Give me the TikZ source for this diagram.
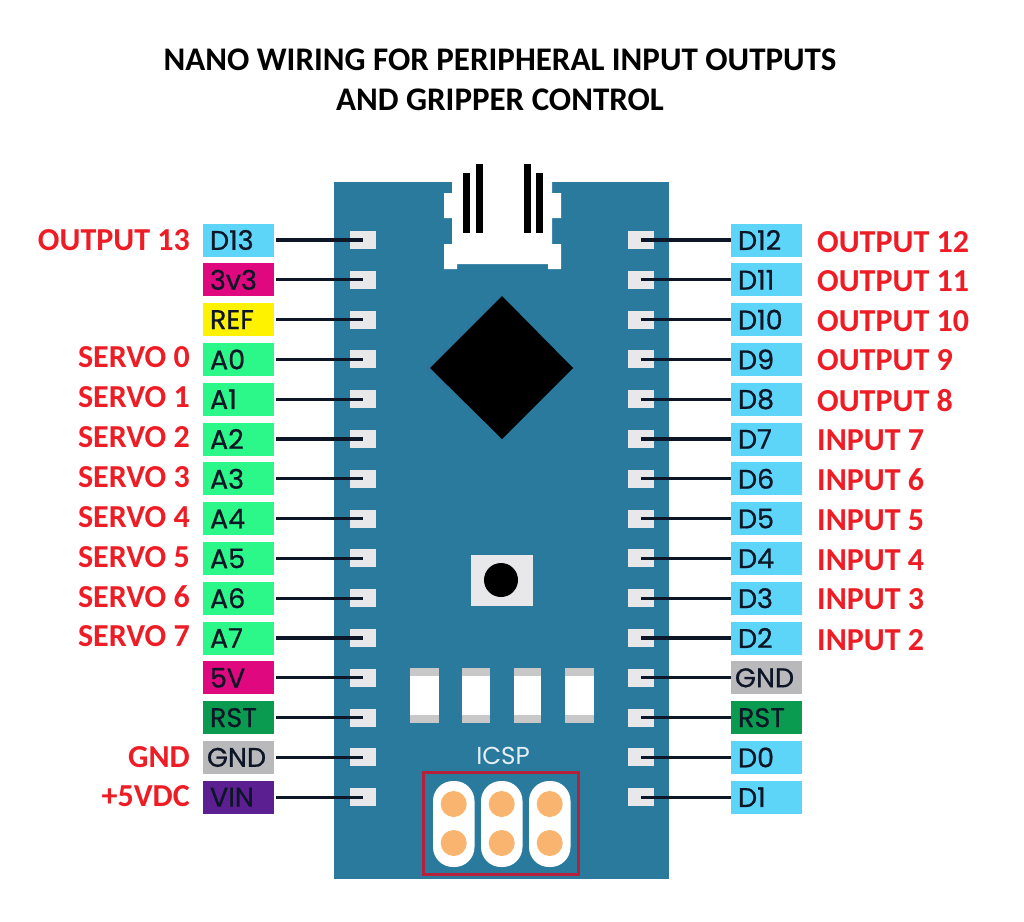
\documentclass[tikz,border=0pt]{standalone}
\usepackage{fontspec}
\setmainfont{Carlito}
\newfontfamily\pinfont[FakeBold=0.7]{Poppins}
\newfontfamily\icspfont{Poppins}
\definecolor{cboard}{HTML}{2A7A9E}
\definecolor{cpad}{HTML}{E8E8EA}
\definecolor{cblue}{HTML}{5CD5F9}
\definecolor{cmag}{HTML}{E0087F}
\definecolor{cyel}{HTML}{FFF200}
\definecolor{cgreen}{HTML}{2CF88A}
\definecolor{cgrey}{HTML}{B9B9BB}
\definecolor{cdgreen}{HTML}{0A9A50}
\definecolor{cpurple}{HTML}{5B1F91}
\definecolor{cink}{HTML}{0D1626}
\definecolor{cred}{HTML}{EE1C25}
\definecolor{cframe}{HTML}{B5203A}
\definecolor{corange}{HTML}{F9B46F}
\definecolor{ccap}{HTML}{C8C8C8}
\tikzset{
  pinbox/.style={fill=#1,text=cink,minimum width=71pt,minimum height=33pt,inner xsep=7pt,inner ysep=0pt,text width=57pt,align=left,font=\pinfont\fontsize{27}{30}\selectfont},
  padbox/.style={fill=cpad,minimum width=26pt,minimum height=18pt,inner sep=0pt},
  wire/.style={draw=cink,line width=3.2pt},
  redtext/.style={text=cred,inner sep=0pt,font=\bfseries\fontsize{32}{36}\selectfont},
  titletext/.style={text=black,inner sep=0pt,align=center,font=\bfseries\fontsize{33}{40}\selectfont},
  smd/.style={fill=white},
  capband/.style={fill=ccap},
  pill/.style={fill=white,rounded corners=20pt},
  hole/.style={fill=corange}
}
\begin{document}
\begin{tikzpicture}[x=1pt,y=1pt]
\useasboundingbox (0,0) rectangle (1024,-921);
\fill[white] (0,0) rectangle (1024,-921);
\node[titletext] (title) at (500,-80) {NANO WIRING FOR PERIPHERAL INPUT OUTPUTS\\AND GRIPPER CONTROL};
% board
\fill[cboard] (334,-182) rectangle (669,-879);
\fill[white] (452,-182) -- (552,-182) -- (552,-193) -- (561,-193) -- (561,-218) -- (552,-218) -- (552,-244) -- (561,-244) -- (561,-269) -- (548,-269) -- (548,-264) -- (457,-264) -- (457,-269) -- (444,-269) -- (444,-244) -- (452,-244) -- (452,-218) -- (444,-218) -- (444,-193) -- (452,-193) -- cycle;
\fill[black] (463,-173) rectangle (470,-233);
\fill[black] (476,-164) rectangle (483,-233);
\fill[black] (524,-164) rectangle (531,-233);
\fill[black] (536,-173) rectangle (543,-233);
\fill[black] (502,-296) -- (573,-368) -- (502,-439) -- (430,-368) -- cycle;
\fill[cpad] (471,-555) rectangle (533,-606);
\fill[black] (501,-580) circle (17);
\foreach \xa/\xb in {410/439,462/490,514/541,565/594}{
  \fill[smd] (\xa,-668) rectangle (\xb,-723);
  \fill[capband] (\xa,-668) rectangle (\xb,-676);
  \fill[capband] (\xa,-715) rectangle (\xb,-723);
}
\node[text=white!88!cboard,inner sep=0pt,font=\icspfont\fontsize{24.5}{26}\selectfont] (icsp) at (503,-756) {ICSP};
\draw[cframe,line width=3pt] (423,-772) rectangle (578,-874);
\foreach \xa in {433,481,529}{
  \fill[pill] (\xa,-781) rectangle ++(41.5,-86);
  \fill[hole] (\xa+20.7,-804) circle (13);
  \fill[hole] (\xa+20.7,-843) circle (13);
}
% left pins
\foreach \i/\t/\c in {0/D13/cblue,1/3v3/cmag,2/REF/cyel,3/A0/cgreen,4/A1/cgreen,5/A2/cgreen,6/A3/cgreen,7/A4/cgreen,8/A5/cgreen,9/A6/cgreen,10/A7/cgreen,11/5V/cmag,12/RST/cdgreen,13/\hspace*{-3pt}GND/cgrey,14/VIN/cpurple}{
  \pgfmathsetmacro{\yy}{-240-39.8*\i}
  \node[padbox] (PL\i) at (363,\yy) {};
  \node[pinbox=\c] (L\i) at (238.5,\yy) {\t};
  \draw[wire] (L\i.east) ++(2,0) -- (PL\i.center);
}
% right pins
\foreach \i/\t/\c in {0/D12/cblue,1/D11/cblue,2/D10/cblue,3/D9/cblue,4/D8/cblue,5/D7/cblue,6/D6/cblue,7/D5/cblue,8/D4/cblue,9/D3/cblue,10/D2/cblue,11/\hspace*{-3pt}GND/cgrey,12/RST/cdgreen,13/D0/cblue,14/D1/cblue}{
  \pgfmathsetmacro{\yy}{-240-39.8*\i}
  \node[padbox] (PR\i) at (640.5,\yy) {};
  \node[pinbox=\c] (R\i) at (766.5,\yy) {\t};
  \draw[wire] (PR\i.center) -- (R\i.west);
}
% red captions
\foreach \n/\y/\t in {a/240/OUTPUT 13,b/357/SERVO 0,c/397/SERVO 1,d/437/SERVO 2,e/477/SERVO 3,f/517/SERVO 4,g/557/SERVO 5,h/597/SERVO 6,i/636/SERVO 7,j/757/GND,k/796/+5VDC}{
  \node[redtext,anchor=base east] (cap\n) at (190,-\y-10) {\t};
}
\foreach \n/\y/\t in {a/242/OUTPUT 12,b/281/OUTPUT 11,c/321/OUTPUT 10,d/360/OUTPUT 9,e/401/OUTPUT 8,f/440/INPUT 7,g/480/INPUT 6,h/520/INPUT 5,i/560/INPUT 4,j/599/INPUT 3,k/640/INPUT 2}{
  \node[redtext,anchor=base west] (rcap\n) at (817,-\y-10) {\t};
}
\end{tikzpicture}
\end{document}
